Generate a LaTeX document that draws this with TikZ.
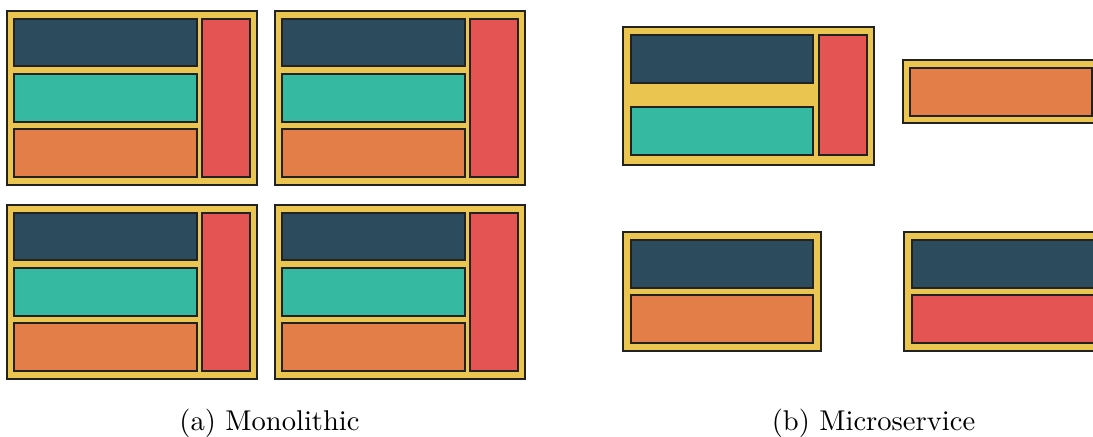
\documentclass[tikz,border=0pt]{standalone}
\usetikzlibrary{positioning}
\definecolor{frameY}{HTML}{EAC651}
\definecolor{slate}{HTML}{2C4C5D}
\definecolor{teal}{HTML}{35B9A0}
\definecolor{tangerine}{HTML}{E47E48}
\definecolor{coral}{HTML}{E35453}
\definecolor{edge}{HTML}{222222}
\begin{document}
\begin{tikzpicture}[x=0.35pt,y=-0.35pt,
  outerbox/.style={fill=frameY,draw=edge,line width=0.75pt},
  cell/.style={draw=edge,line width=0.6pt},
  caption/.style={anchor=base,font=\fontsize{10}{12}\selectfont},
  mono/.pic={
    \draw[outerbox] (0,0) rectangle (250,174);
    \draw[cell,fill=slate] (7,8) rectangle (190,55);
    \draw[cell,fill=teal] (7,63) rectangle (190,111);
    \draw[cell,fill=tangerine] (7,118) rectangle (190,166);
    \draw[cell,fill=coral] (195,8) rectangle (243,166);
  }]
\useasboundingbox (0,0) rectangle (1093,437);
\clip (0,0) rectangle (1093,437);

% monolithic application: four identical copies
\pic at (7,11) {mono};
\pic at (275,11) {mono};
\pic at (7,205) {mono};
\pic at (275,205) {mono};

% microservices: services split into separate boxes
\draw[outerbox] (623,27) rectangle (874,165);
\draw[cell,fill=slate] (631,35) rectangle (813,83);
\draw[cell,fill=teal] (631,107) rectangle (813,155);
\draw[cell,fill=coral] (819,35) rectangle (867,155);

\draw[outerbox] (903,60) rectangle (1101,123);
\draw[cell,fill=tangerine] (910,68) rectangle (1092,116);

\draw[outerbox] (623,232) rectangle (821,351);
\draw[cell,fill=slate] (631,240) rectangle (813,288);
\draw[cell,fill=tangerine] (631,295) rectangle (813,343);

\draw[outerbox] (904,232) rectangle (1102,351);
\draw[cell,fill=slate] (912,240) rectangle (1094,288);
\draw[cell,fill=coral] (912,295) rectangle (1094,343);

% captions
\node[caption] (capa) at (269.5,431) {(a) Monolithic};
\node[caption] (capb) at (873.5,431) {(b) Microservice};
\end{tikzpicture}
\end{document}
